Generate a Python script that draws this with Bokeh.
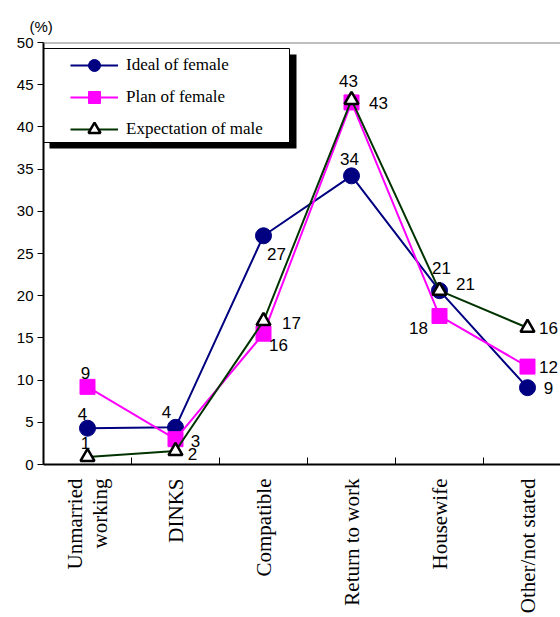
import numpy as np
from bokeh.plotting import figure
from bokeh.models import (ColumnDataSource, Range1d, FixedTicker, Span, Title,
                          BoxAnnotation, Legend, LegendItem)
from bokeh.core.properties import value
from bokeh.embed import file_html
from bokeh.resources import INLINE

# ---------------- data ----------------
categories = ["Unmarried\nworking", "DINKS", "Compatible", "Return to work",
              "Housewife", "Other/not stated"]
series_names = ["Ideal of female", "Plan of female", "Expectation of male"]
ideal = [4.3, 4.4, 27.1, 34.2, 20.6, 9.1]
plan = [9.2, 3.0, 15.5, 42.9, 17.6, 11.6]
male = [0.9, 1.6, 17.0, 43.2, 20.6, 16.2]
y_ticks = [0, 5, 10, 15, 20, 25, 30, 35, 40, 45, 50]

# ---------------- styles ----------------
colors = ["#000080", "#FF00FF", "#003300"]
# data-label pixel offsets (dx, dy) per point
ideal_off = [(-5, -14), (-9, -15), (13, 18), (-2, -17), (2, -23), (21, 0)]
plan_off = [(-2, -14), (20, 2), (15, 11), (27, 1), (-21, 12), (21, 0)]
male_off = [(-2, -14), (17, 3), (28, 2), (-3, -19), (26, -7), (21, 0)]

W, H = 560, 617
L, R, T, B = 43, 0, 42, 153
cat_px = 88.0
xs = [i + 0.5 for i in range(len(categories))]
x_end = (W - L - R) / cat_px

p = figure(width=W, height=H, output_backend="svg", toolbar_location=None,
           title=None, x_range=Range1d(0, x_end), y_range=Range1d(0, 50),
           min_border_left=L, min_border_right=R, min_border_top=T,
           min_border_bottom=B)
p.outline_line_color = None
p.background_fill_color = "white"
p.border_fill_color = "white"
p.xgrid.visible = False
p.ygrid.visible = False

# unit marker above the y axis
p.add_layout(Title(text="(%)", align="left", offset=-14, standoff=16,
                   text_font="Liberation Sans", text_font_size="15px",
                   text_font_style="normal", text_color="black"), "above")

# top gray frame line
p.add_layout(Span(location=50, dimension="width", line_color="#808080", line_width=2))

# axes
xa = p.xaxis[0]
xa.ticker = FixedTicker(ticks=xs, minor_ticks=[1, 2, 3, 4, 5])
xa.major_label_overrides = {x: c for x, c in zip(xs, categories)}
xa.major_label_orientation = np.pi / 2
xa.major_tick_in = 0
xa.major_tick_out = 0
xa.minor_tick_in = 7
xa.minor_tick_out = 0
xa.minor_tick_line_color = "black"
xa.minor_tick_line_width = 1
xa.axis_line_color = "black"
xa.axis_line_width = 2
xa.major_label_standoff = 14
xa.major_label_text_font = "Liberation Serif"
xa.major_label_text_font_size = "21px"
xa.major_label_text_line_height = 1.05
xa.major_label_text_color = "black"

ya = p.yaxis[0]
ya.ticker = FixedTicker(ticks=y_ticks, minor_ticks=[])
ya.major_tick_in = 0
ya.major_tick_out = 6
ya.major_tick_line_color = "black"
ya.major_tick_line_width = 1
ya.minor_tick_line_color = None
ya.axis_line_color = "black"
ya.axis_line_width = 2
ya.major_label_standoff = 4
ya.major_label_text_font = "Liberation Sans"
ya.major_label_text_font_size = "15px"
ya.major_label_text_color = "black"

# legend box (shadow + white box), pixel geometry converted to data units
def dx(px):
    return (px - L) / cat_px

def dy(py):
    return (T + (H - T - B) - py) / ((H - T - B) / 50.0)

p.add_layout(BoxAnnotation(left=dx(49), right=dx(296), top=dy(54), bottom=dy(148),
                           fill_color="black", fill_alpha=1, line_color=None, level="underlay"))
p.add_layout(BoxAnnotation(left=dx(43), right=dx(289), top=dy(48), bottom=dy(142),
                           fill_color="white", fill_alpha=1, line_color="black",
                           line_width=1, line_alpha=1, level="underlay"))

# series
items = []
all_vals = [ideal, plan, male]
offs = [ideal_off, plan_off, male_off]
for k, (vals, off, name, col) in enumerate(zip(all_vals, offs, series_names, colors)):
    src = ColumnDataSource(dict(
        x=xs, y=vals, label=[str(int(round(v))) for v in vals],
        ox=[o[0] for o in off], oy=[o[1] for o in off]))
    lr = p.line("x", "y", source=src, line_color=col, line_width=2)
    if k == 0:
        mr = p.scatter("x", "y", source=src, marker="circle", size=16,
                       fill_color=col, line_color=col)
    elif k == 1:
        mr = p.scatter("x", "y", source=src, marker="square", size=15,
                       fill_color=col, line_color=col)
    else:
        mr = p.scatter("x", "y", source=src, marker="triangle", size=14,
                       fill_color="white", line_color="black", line_width=2.5)
    p.text("x", "y", text="label", source=src, x_offset="ox", y_offset="oy",
           text_align="center", text_baseline="middle",
           text_font=value("Liberation Sans"), text_font_size="17px",
           text_color="black")
    items.append(LegendItem(label=name, renderers=[lr, mr]))

legend = Legend(items=items, location=(27, 320), orientation="vertical",
                glyph_width=48, glyph_height=30, label_height=30, spacing=2,
                padding=0, margin=0, label_standoff=8,
                background_fill_alpha=0, border_line_color=None,
                label_text_font="Liberation Serif", label_text_font_size="17px",
                label_text_color="black")
p.add_layout(legend)

open("out.html", "w").write(file_html(p, INLINE))
